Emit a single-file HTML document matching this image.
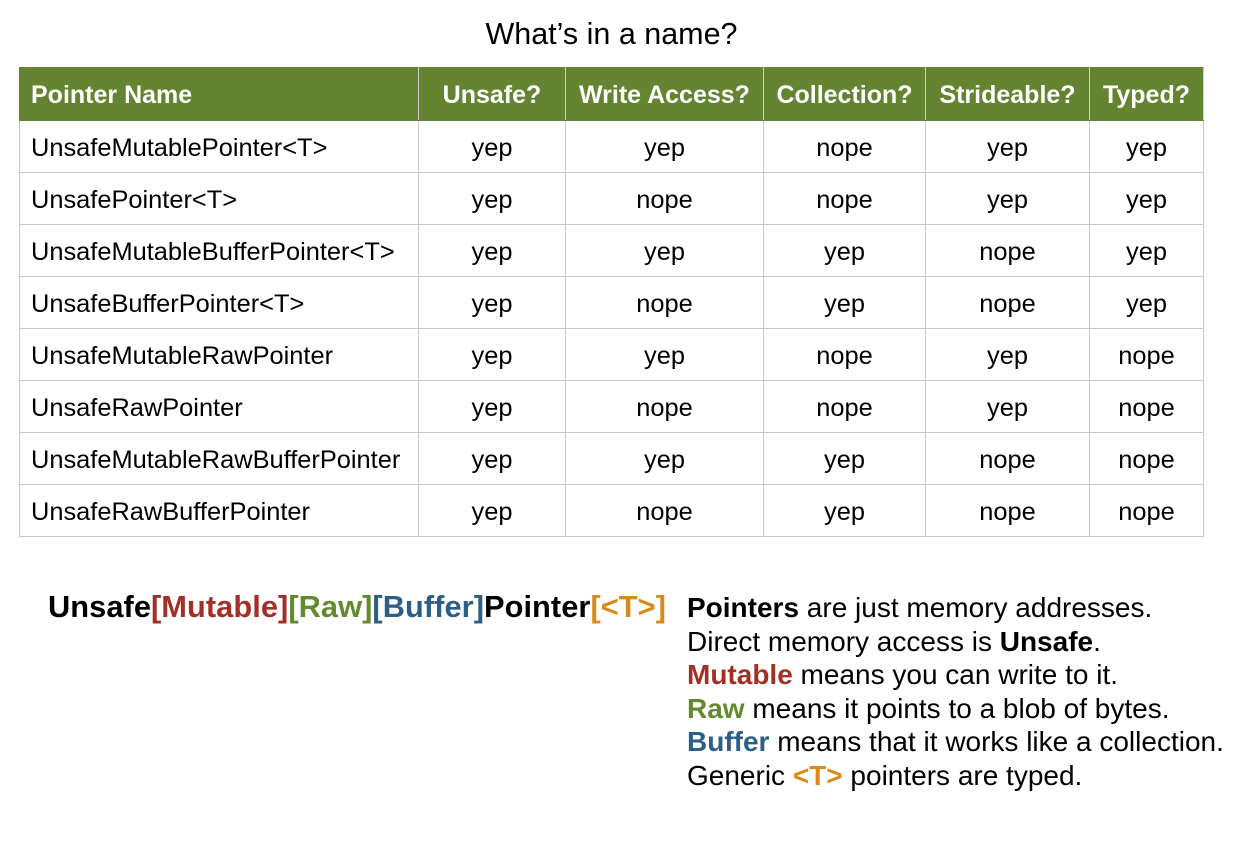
<!DOCTYPE html>
<html><head><style>
body{margin:0;width:1251px;height:850px;background:#fff;font-family:"Liberation Sans",sans-serif;position:relative;overflow:hidden;color:#000}
.t{position:absolute;top:17px;left:0;width:1223px;text-align:center;font-size:30.5px}
table{position:absolute;left:19px;top:67px;border-collapse:collapse;font-size:25.4px;table-layout:fixed}
td,th{border:1px solid #c8c8c8;height:51px;padding:3px 0 0 0;box-sizing:border-box;text-align:center;white-space:nowrap}
td{height:52px}
th{background:#648431;color:#fff;font-weight:bold;border-color:#648431;border-right-color:#d0d0d0;height:53px;font-size:25px}
td:first-child,th:first-child{text-align:left;padding-left:11px}
.big{position:absolute;left:48px;top:589px;font-size:30.8px;font-weight:bold;letter-spacing:0.05px}
.r{color:#a33024}.g{color:#628a2e}.b{color:#2d5f86}.o{color:#d88a1e}
.side{position:absolute;left:687px;top:591px;font-size:28px;line-height:33.6px;white-space:nowrap}
</style></head><body>
<div class="t">What’s in a name?</div>
<table>
<colgroup><col style="width:399px"><col style="width:147px"><col style="width:198px"><col style="width:162px"><col style="width:164px"><col style="width:114px"></colgroup>
<tr><th>Pointer Name</th><th>Unsafe?</th><th>Write Access?</th><th>Collection?</th><th>Strideable?</th><th>Typed?</th></tr>
<tr><td>UnsafeMutablePointer&lt;T&gt;</td><td>yep</td><td>yep</td><td>nope</td><td>yep</td><td>yep</td></tr>
<tr><td>UnsafePointer&lt;T&gt;</td><td>yep</td><td>nope</td><td>nope</td><td>yep</td><td>yep</td></tr>
<tr><td>UnsafeMutableBufferPointer&lt;T&gt;</td><td>yep</td><td>yep</td><td>yep</td><td>nope</td><td>yep</td></tr>
<tr><td>UnsafeBufferPointer&lt;T&gt;</td><td>yep</td><td>nope</td><td>yep</td><td>nope</td><td>yep</td></tr>
<tr><td>UnsafeMutableRawPointer</td><td>yep</td><td>yep</td><td>nope</td><td>yep</td><td>nope</td></tr>
<tr><td>UnsafeRawPointer</td><td>yep</td><td>nope</td><td>nope</td><td>yep</td><td>nope</td></tr>
<tr><td>UnsafeMutableRawBufferPointer</td><td>yep</td><td>yep</td><td>yep</td><td>nope</td><td>nope</td></tr>
<tr><td>UnsafeRawBufferPointer</td><td>yep</td><td>nope</td><td>yep</td><td>nope</td><td>nope</td></tr>
</table>
<div class="big">Unsafe<span class="r">[Mutable]</span><span class="g">[Raw]</span><span class="b">[Buffer]</span>Pointer<span class="o">[&lt;T&gt;]</span></div>
<div class="side">
<b>Pointers</b> are just memory addresses.<br>
Direct memory access is <b>Unsafe</b>.<br>
<b class="r">Mutable</b> means you can write to it.<br>
<b class="g">Raw</b> means it points to a blob of bytes.<br>
<b class="b">Buffer</b> means that it works like a collection.<br>
Generic <b class="o">&lt;T&gt;</b> pointers are typed.
</div>
</body></html>
